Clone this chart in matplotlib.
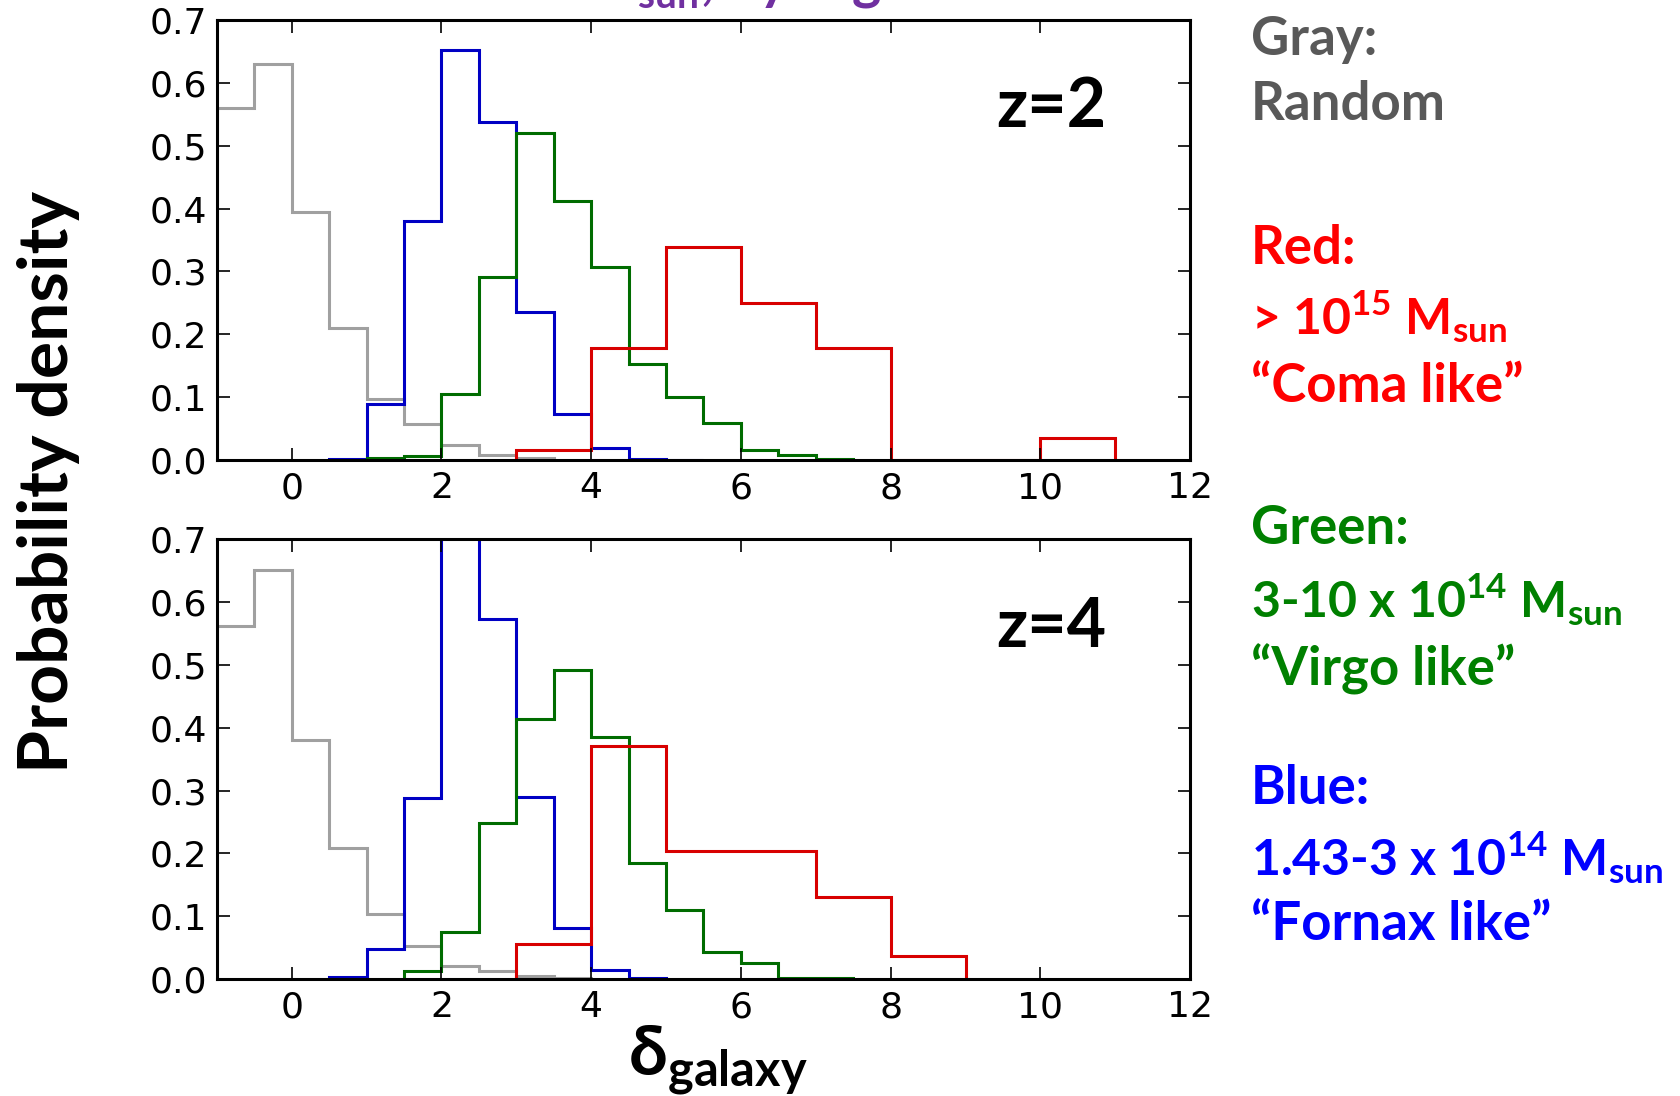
import numpy as np
import matplotlib
matplotlib.use("Agg")
import matplotlib.pyplot as plt

# histogram data (probability density per bin)
# z = 2 panel
gray_z2_edges = [-1.0, -0.5, 0.0, 0.5, 1.0, 1.5, 2.0, 2.5, 3.0, 3.5]
gray_z2 = [0.56, 0.63, 0.395, 0.21, 0.098, 0.058, 0.025, 0.008, 0.003]
blue_z2_edges = [0.5, 1.0, 1.5, 2.0, 2.5, 3.0, 3.5, 4.0, 4.5, 5.0, 5.5]
blue_z2 = [0.002, 0.089, 0.38, 0.652, 0.537, 0.235, 0.073, 0.019, 0.002, 0.001]
green_z2_edges = [1.0, 1.5, 2.0, 2.5, 3.0, 3.5, 4.0, 4.5, 5.0, 5.5, 6.0, 6.5, 7.0, 7.5]
green_z2 = [0.003, 0.007, 0.105, 0.292, 0.52, 0.412, 0.307, 0.153, 0.101, 0.060, 0.016, 0.008, 0.002]
red_z2_edges = [3, 4, 5, 6, 7, 8, 9, 10, 11]
red_z2 = [0.016, 0.178, 0.339, 0.250, 0.178, 0.0, 0.0, 0.035]

# z = 4 panel
gray_z4_edges = [-1.0, -0.5, 0.0, 0.5, 1.0, 1.5, 2.0, 2.5, 3.0, 3.5, 4.0]
gray_z4 = [0.562, 0.652, 0.38, 0.209, 0.104, 0.052, 0.021, 0.012, 0.005, 0.001]
blue_z4_edges = [0.5, 1.0, 1.5, 2.0, 2.5, 3.0, 3.5, 4.0, 4.5, 5.0]
blue_z4 = [0.003, 0.047, 0.288, 0.74, 0.574, 0.29, 0.081, 0.014, 0.002]
green_z4_edges = [1.5, 2.0, 2.5, 3.0, 3.5, 4.0, 4.5, 5.0, 5.5, 6.0, 6.5, 7.0, 7.5]
green_z4 = [0.013, 0.074, 0.249, 0.414, 0.492, 0.385, 0.185, 0.110, 0.043, 0.025, 0.002, 0.002]
red_z4_edges = [3, 4, 5, 6, 7, 8, 9]
red_z4 = [0.056, 0.371, 0.204, 0.204, 0.130, 0.036]

xticks = [0, 2, 4, 6, 8, 10, 12]
yticks = [0.0, 0.1, 0.2, 0.3, 0.4, 0.5, 0.6, 0.7]

GRAY, BLUE, GREEN, RED = "#a0a0a0", "#0000c4", "#006c00", "#d80000"
bold_font = ["Lato", "DejaVu Sans"]

plt.rcParams["mathtext.fontset"] = "custom"
plt.rcParams["mathtext.rm"] = "Lato:bold"

fig = plt.figure(figsize=(16.81, 10.96), dpi=100)
ax_top = fig.add_axes([0.129, 0.580, 0.579, 0.402])
ax_bot = fig.add_axes([0.129, 0.1068, 0.579, 0.401])

panels = [
    (ax_top, "z=2", [(gray_z2, gray_z2_edges, GRAY), (blue_z2, blue_z2_edges, BLUE),
                     (green_z2, green_z2_edges, GREEN), (red_z2, red_z2_edges, RED)]),
    (ax_bot, "z=4", [(gray_z4, gray_z4_edges, GRAY), (blue_z4, blue_z4_edges, BLUE),
                     (green_z4, green_z4_edges, GREEN), (red_z4, red_z4_edges, RED)]),
]

for ax, zlab, series in panels:
    for vals, edges, col in series:
        ax.stairs(vals, edges, color=col, lw=2.2)
    ax.set_xlim(-1, 12)
    ax.set_ylim(0, 0.7)
    ax.set_xticks(xticks)
    ax.set_yticks(yticks)
    ax.set_yticklabels(["%.1f" % v for v in yticks])
    ax.tick_params(direction="in", top=True, right=True, length=9, width=1.2,
                   labelsize=26, color="black")
    ax.tick_params(axis="x", pad=8)
    ax.tick_params(axis="y", pad=7)
    for sp in ax.spines.values():
        sp.set_linewidth(2.2)
    ax.text(0.857, 0.80, zlab, transform=ax.transAxes, ha="center", va="center",
            fontsize=49, fontweight="bold", family=bold_font)

# axis labels
fig.text(0.029, 0.560, "Probability density", rotation=90, ha="center", va="center",
         fontsize=50, fontweight="bold", family=bold_font)
fig.text(0.427, 0.020, "δ$_{\\mathregular{galaxy}}$", ha="center", va="baseline",
         fontsize=50, fontweight="bold", family=bold_font)

# cut-off title at the very top
fig.text(0.279, 1.001, "Protoclusters  > 10$^{\\mathregular{14}}$ M$_{\\mathregular{sun}}$, by reg",
         ha="center", va="baseline", fontsize=40, fontweight="bold",
         family=bold_font, color="#7030a0")

# colour key on the right
key_lines = [
    ("Gray:", "#595959", 38),
    ("Random", "#595959", 38),
    ("Red:", "#ff0000", 38),
    ("> 10$^{\\mathregular{15}}$ M$_{\\mathregular{sun}}$", "#ff0000", 36),
    ("\u201cComa like\u201d", "#ff0000", 38),
    ("Green:", "#008000", 38),
    ("3-10 x 10$^{\\mathregular{14}}$ M$_{\\mathregular{sun}}$", "#008000", 36),
    ("\u201cVirgo like\u201d", "#008000", 38),
    ("Blue:", "#0000ff", 38),
    ("1.43-3 x 10$^{\\mathregular{14}}$ M$_{\\mathregular{sun}}$", "#0000ff", 36),
    ("\u201cFornax like\u201d", "#0000ff", 38),
]
key_centers = [40, 105, 249, 317, 386, 528, 600, 669, 788, 858, 924]
for (txt, col, fs), yc in zip(key_lines, key_centers):
    fig.text(1251 / 1681, 1 - yc / 1096, txt, ha="left", va="center", fontsize=fs,
             fontweight="bold", family=bold_font, color=col)

fig.savefig("out.png", dpi=100)
